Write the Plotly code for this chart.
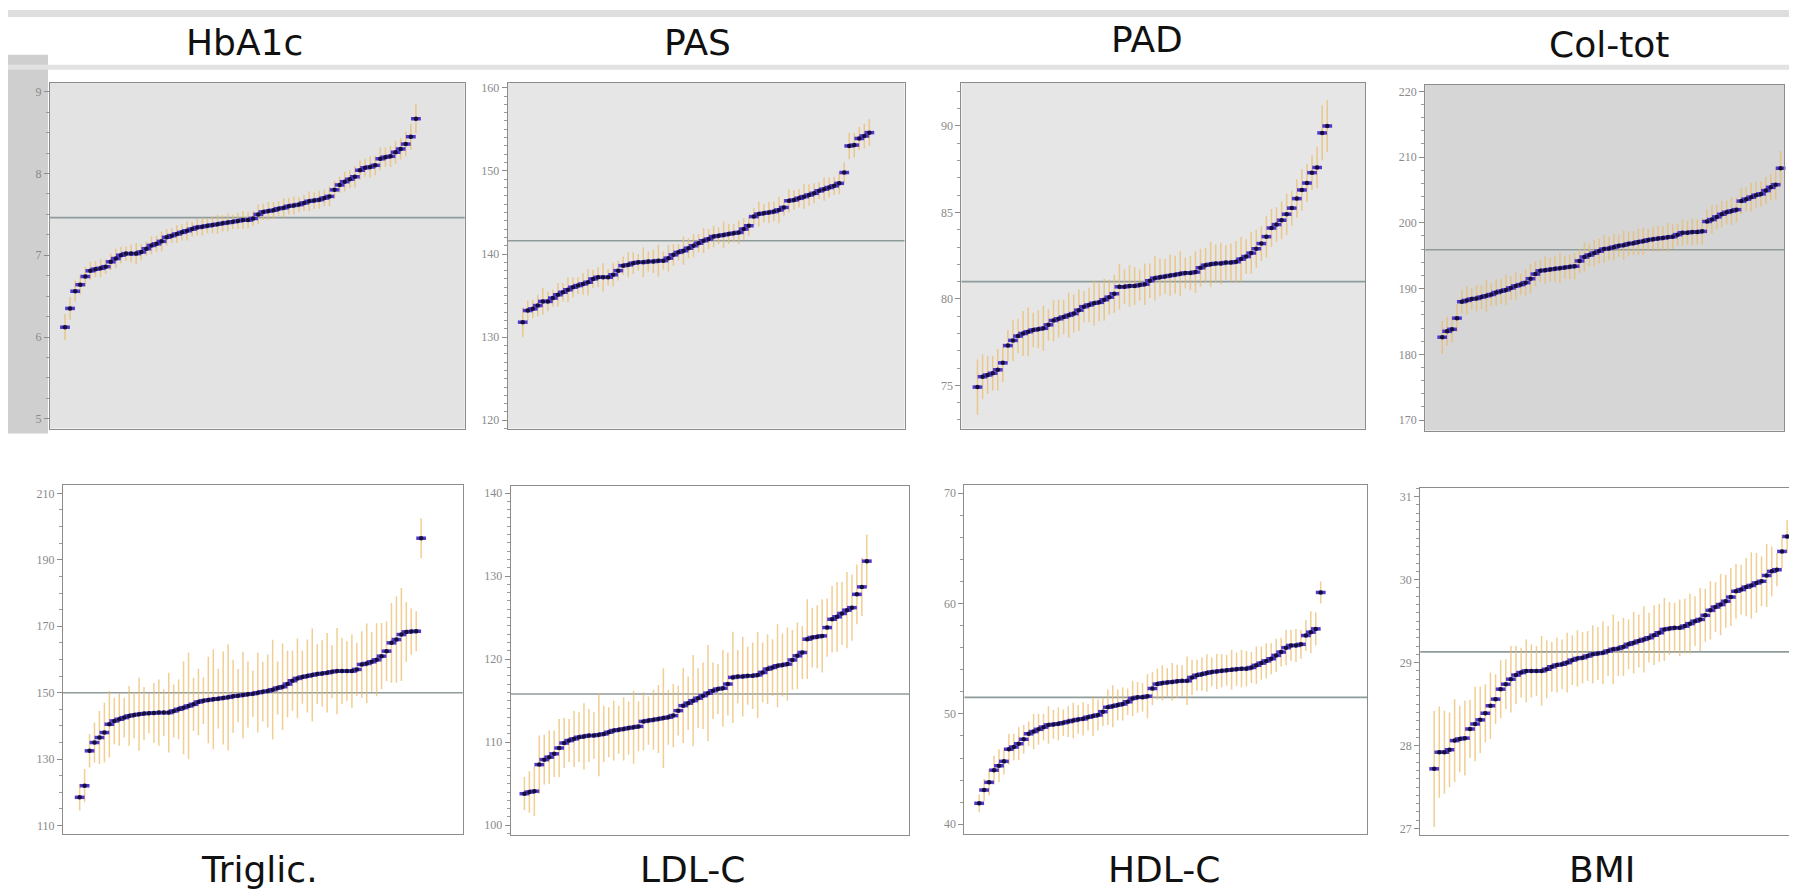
import plotly.graph_objects as go

# ---------------- data ----------------
unit_index = list(range(1, 71))

hba1c = [6.12,6.35,6.56,6.64,6.74,6.81,6.83,6.84,6.86,6.92,6.96,7.00,7.02,7.02,7.02,7.04,7.08,7.12,7.14,7.17,
         7.22,7.24,7.26,7.28,7.30,7.32,7.34,7.35,7.36,7.37,7.38,7.39,7.40,7.41,7.42,7.43,7.43,7.45,7.50,7.53,
         7.54,7.55,7.57,7.58,7.60,7.61,7.62,7.64,7.66,7.67,7.68,7.70,7.72,7.80,7.86,7.90,7.93,7.96,8.04,8.07,
         8.08,8.10,8.18,8.20,8.21,8.26,8.30,8.36,8.45,8.67]
hba1c_err = [0.16,0.14,0.13,0.12,0.12,0.11,0.10,0.11,0.09,0.10,0.12,0.10,0.09,0.11,0.13,0.10,0.09,0.11,0.10,0.12,
             0.10,0.09,0.11,0.10,0.12,0.09,0.10,0.11,0.09,0.10,0.12,0.10,0.11,0.09,0.10,0.11,0.10,0.09,0.12,0.10,
             0.11,0.10,0.09,0.12,0.10,0.11,0.09,0.10,0.12,0.10,0.11,0.10,0.12,0.11,0.10,0.12,0.11,0.13,0.12,0.11,
             0.13,0.12,0.14,0.12,0.13,0.14,0.13,0.15,0.16,0.18]

pas = [131.8,133.2,133.4,133.8,134.3,134.3,134.7,135.1,135.4,135.7,136.0,136.2,136.4,136.6,137.0,137.2,137.2,137.2,137.5,138.0,
       138.6,138.7,138.9,139.0,139.0,139.1,139.1,139.2,139.2,139.5,139.9,140.2,140.4,140.7,141.0,141.3,141.6,141.8,142.1,142.2,
       142.3,142.4,142.5,142.6,143.0,143.4,144.5,144.8,144.9,145.0,145.1,145.3,145.6,146.4,146.5,146.7,146.9,147.1,147.3,147.6,
       147.8,148.0,148.2,148.5,149.8,153.0,153.1,153.9,154.2,154.6]
pas_err = [1.8,1.2,1.1,1.3,1.6,1.2,1.0,1.4,1.1,1.5,1.2,1.0,1.3,1.6,1.1,1.2,1.7,1.0,1.4,1.2,
           1.1,1.5,1.3,1.0,1.8,1.2,1.4,1.9,1.1,1.6,1.3,1.0,1.7,1.2,1.4,1.1,1.5,1.2,1.3,1.0,
           1.6,1.2,1.1,1.4,1.3,1.2,1.0,1.5,1.1,1.3,1.2,1.6,1.0,1.4,1.2,1.1,1.5,1.3,1.2,1.0,
           1.4,1.2,1.1,1.3,1.2,1.6,1.5,1.4,1.5,1.6]

pad = [74.9,75.5,75.6,75.7,75.9,76.3,77.3,77.6,77.85,78.0,78.1,78.2,78.25,78.3,78.5,78.75,78.85,78.95,79.05,79.15,
       79.35,79.55,79.65,79.75,79.8,79.95,80.1,80.3,80.7,80.7,80.75,80.75,80.8,80.85,81.05,81.2,81.25,81.3,81.35,81.4,
       81.45,81.5,81.5,81.55,81.8,81.95,82.0,82.05,82.05,82.1,82.1,82.15,82.3,82.45,82.65,82.9,83.2,83.6,84.1,84.3,
       84.55,84.9,85.25,85.8,86.3,86.7,87.3,87.6,89.6,90.0]
pad_err = [1.6,1.3,1.1,1.0,1.2,1.1,0.9,1.2,1.0,1.3,1.4,1.0,1.1,1.3,0.9,1.2,1.1,1.0,1.3,1.1,
           1.2,0.9,1.0,1.3,1.1,1.2,1.0,1.1,1.3,1.0,1.2,1.1,0.9,1.2,1.0,1.3,1.1,1.0,1.2,1.1,
           1.3,0.9,1.0,1.2,1.1,1.0,1.3,1.1,1.2,1.0,1.1,1.2,1.3,1.0,1.2,1.1,1.0,1.2,1.1,1.0,
           1.1,1.2,1.0,1.1,1.2,1.1,1.0,1.2,1.6,1.5]

coltot = [182.6,183.5,183.8,185.5,188.0,188.2,188.4,188.5,188.7,188.9,189.1,189.4,189.6,189.8,190.1,190.4,190.6,190.9,191.5,192.2,
          192.7,192.8,192.9,193.0,193.1,193.2,193.3,193.4,194.2,194.8,195.1,195.4,195.7,196.0,196.1,196.3,196.5,196.6,196.8,196.9,
          197.1,197.2,197.4,197.5,197.6,197.7,197.8,197.9,198.2,198.5,198.5,198.6,198.6,198.7,200.2,200.5,200.9,201.3,201.6,201.8,
          202.0,203.3,203.6,203.9,204.2,204.4,204.9,205.4,205.8,208.3]
coltot_err = [2.5,2.2,2.0,2.1,1.8,2.2,1.6,2.0,1.8,2.4,1.7,2.0,1.9,2.3,1.8,2.1,1.6,2.0,2.2,1.9,
              1.7,2.1,1.8,2.0,2.3,1.7,1.9,2.0,1.8,2.2,1.7,2.0,1.9,2.1,1.8,2.0,1.7,2.2,1.9,1.8,
              2.0,2.1,1.7,1.9,2.0,1.8,2.2,1.9,1.7,2.0,1.8,2.1,1.9,2.0,1.8,2.2,1.9,2.0,1.8,2.1,
              1.9,2.0,1.8,2.2,2.0,1.9,2.1,2.0,2.2,2.6]

triglic = [118.5,122.0,132.5,135.0,136.5,138.0,140.5,141.5,142.0,142.5,143.0,143.3,143.5,143.7,143.8,143.9,144.0,144.0,144.0,144.5,
           145.0,145.5,146.0,146.5,147.2,147.6,147.8,148.0,148.2,148.4,148.6,148.9,149.1,149.3,149.5,149.7,150.0,150.3,150.5,150.9,
           151.4,151.8,152.6,153.6,154.3,154.7,155.0,155.3,155.6,155.8,156.0,156.3,156.5,156.5,156.5,156.5,157.0,158.5,158.8,159.3,
           159.9,161.0,162.5,165.0,166.0,167.5,168.3,168.4,168.5,196.5]
triglic_err = [4,5,5,6,8,9,10,7,8,6,9,7,11,8,6,9,10,7,12,8,
               9,14,16,8,10,7,13,15,9,14,16,11,8,13,10,7,12,9,11,15,
               8,13,10,9,12,8,11,14,9,10,12,8,13,10,9,11,8,10,12,9,
               11,10,9,12,13,14,9,7,6,6]

ldlc = [103.8,104.0,104.1,107.3,107.9,108.2,108.6,109.3,109.9,110.2,110.4,110.6,110.7,110.8,110.8,110.9,111.0,111.2,111.4,111.5,
        111.6,111.7,111.8,111.9,112.5,112.6,112.7,112.8,112.9,113.0,113.2,113.8,114.4,114.7,115.0,115.3,115.6,115.9,116.2,116.4,
        116.5,117.0,117.8,117.9,117.9,118.0,118.0,118.1,118.4,118.8,119.0,119.2,119.3,119.4,119.9,120.4,120.8,122.4,122.6,122.7,
        122.8,123.8,124.8,125.1,125.5,125.9,126.2,127.8,128.7,131.8]
ldlc_err = [2.0,2.5,3.0,3.5,3.0,3.2,2.8,3.5,3.0,2.6,3.4,3.0,4.0,3.2,2.8,5.0,3.4,3.0,3.6,2.9,
            3.8,3.2,4.4,3.0,3.5,2.9,3.6,4.1,6.0,3.3,3.8,3.0,4.5,3.2,5.5,3.6,4.0,5.8,3.4,3.0,
            4.6,3.8,5.5,3.2,4.8,3.5,4.0,5.2,3.6,4.2,3.4,5.0,3.8,4.4,3.6,4.0,3.2,4.8,3.6,3.8,
            4.4,3.5,4.0,4.2,3.8,4.6,4.0,3.6,3.5,3.2]

hdlc = [41.9,43.1,43.8,44.9,45.3,45.7,46.8,47.0,47.3,47.7,48.2,48.4,48.6,48.8,49.0,49.05,49.1,49.2,49.3,49.4,
        49.5,49.55,49.7,49.8,49.9,50.2,50.6,50.7,50.8,50.9,51.1,51.4,51.5,51.5,51.6,52.3,52.7,52.8,52.85,52.9,
        52.95,53.0,53.0,53.3,53.5,53.6,53.7,53.8,53.85,53.9,53.95,54.0,54.05,54.1,54.1,54.2,54.4,54.6,54.8,55.0,
        55.3,55.6,56.0,56.2,56.2,56.3,57.1,57.4,57.7,61.0]
hdlc_err = [0.8,1.0,1.2,1.3,1.5,1.2,1.4,1.2,1.5,1.3,1.1,1.6,1.4,1.2,1.7,1.3,1.5,1.2,1.4,1.6,
            1.3,1.5,1.2,1.8,1.4,1.3,1.6,1.9,1.4,1.5,1.2,1.6,1.4,1.3,2.0,1.5,1.4,1.6,1.3,1.7,
            1.5,1.4,2.2,1.6,1.4,1.5,1.7,1.3,1.6,1.5,1.4,1.8,1.5,1.7,1.6,1.4,1.7,1.5,1.6,1.4,
            1.5,1.3,1.6,1.4,1.5,1.3,1.4,1.9,1.5,1.0]

bmi = [27.72,27.92,27.92,27.95,28.06,28.08,28.09,28.20,28.26,28.31,28.39,28.48,28.56,28.68,28.74,28.80,28.85,28.88,28.90,28.90,
       28.90,28.90,28.92,28.95,28.97,28.98,29.00,29.03,29.05,29.06,29.08,29.10,29.11,29.12,29.14,29.16,29.17,29.19,29.22,29.24,
       29.26,29.28,29.30,29.33,29.36,29.40,29.41,29.42,29.42,29.44,29.47,29.50,29.52,29.57,29.63,29.67,29.70,29.74,29.79,29.86,
       29.88,29.91,29.93,29.96,29.98,30.05,30.10,30.12,30.34,30.52]
bmi_err = [0.7,0.55,0.5,0.45,0.5,0.4,0.45,0.35,0.45,0.4,0.35,0.4,0.3,0.35,0.3,0.4,0.35,0.3,0.38,0.32,
           0.3,0.42,0.35,0.3,0.33,0.3,0.36,0.3,0.34,0.31,0.3,0.35,0.32,0.38,0.3,0.42,0.33,0.35,0.3,0.37,
           0.32,0.4,0.3,0.36,0.35,0.38,0.32,0.3,0.34,0.33,0.36,0.3,0.38,0.32,0.35,0.3,0.37,0.32,0.35,0.33,
           0.3,0.35,0.4,0.36,0.3,0.38,0.3,0.2,0.2,0.2]

panel_titles = ["HbA1c", "PAS", "PAD", "Col-tot", "Triglic.", "LDL-C", "HDL-C", "BMI"]
series = [hba1c, pas, pad, coltot, triglic, ldlc, hdlc, bmi]
errors = [hba1c_err, pas_err, pad_err, coltot_err, triglic_err, ldlc_err, hdlc_err, bmi_err]
means = [7.46, 141.6, 81.0, 195.9, 150.0, 115.8, 51.5, 29.13]
tick_values = [[5, 6, 7, 8, 9], [120, 130, 140, 150, 160], [75, 80, 85, 90], [170, 180, 190, 200, 210, 220],
               [110, 130, 150, 170, 190, 210], [100, 110, 120, 130, 140], [40, 50, 60, 70], [27, 28, 29, 30, 31]]

# ---------------- layout config (pixels in the 1797x889 page) ----------------
W, H = 1797, 889
# (left, right, top, bottom) of each plotting area
boxes = [(42, 457, 73, 420), (500, 897, 73, 420), (954, 1358, 73, 420), (1418, 1777, 75, 422),
         (55, 455, 477, 827), (503, 902, 478, 828), (957, 1360, 477, 827), (1413, 1797, 480, 828)]
x_ranges = [(-1.95, 79.6), (-1.99, 77.0), (-2.16, 77.5), (-2.47, 70.7),
            (-2.37, 78.4), (-1.76, 78.6), (-1.97, 79.4), (-1.73, 73.3)]
y_ranges = [(4.88, 9.11), (119.0, 160.6), (72.5, 92.5), (168.4, 221.0),
            (107.4, 212.4), (98.8, 140.8), (39.1, 70.7), (26.92, 31.1)]
minor_dt = [0.25, 1, 1, 2, 5, 1, 2, 0.1]
bgs = ["#e3e3e3", "#e6e6e6", "#e6e6e6", "#d6d6d6", "white", "white", "white", "white"]
title_pos = [(237, 33), (690, 33), (1140, 30), (1602, 35), (252, 862), (685, 862), (1157, 862), (1595, 862)]

fig = go.Figure()
layout = dict(width=W, height=H, margin=dict(l=0, r=0, t=0, b=0),
              paper_bgcolor="white", plot_bgcolor="white", showlegend=False)

shapes = []
annotations = []

# photo-like grey bands behind the top row
shapes.append(dict(type="rect", xref="paper", yref="paper", x0=0, x1=1, y0=1 - 7 / H, y1=1,
                   fillcolor="#dedede", line_width=0, layer="below"))
shapes.append(dict(type="rect", xref="paper", yref="paper", x0=0, x1=40 / W, y0=1 - 425 / H, y1=1 - 45 / H,
                   fillcolor="#cfcfcf", line_width=0, layer="below"))
shapes.append(dict(type="rect", xref="paper", yref="paper", x0=0, x1=1, y0=1 - 60 / H, y1=1 - 55 / H,
                   fillcolor="#e2e2e2", line_width=0, layer="below"))

for k in range(8):
    ax = "" if k == 0 else str(k + 1)
    l, r, t, b = boxes[k]
    layout["xaxis" + ax] = dict(domain=[l / W, r / W], range=list(x_ranges[k]), anchor="y" + ax,
                                showticklabels=False, ticks="", showgrid=False, zeroline=False,
                                showline=True, linecolor="#8c8c8c", linewidth=1.2, mirror=True)
    layout["yaxis" + ax] = dict(domain=[1 - b / H, 1 - t / H], range=list(y_ranges[k]), anchor="x" + ax,
                                tickvals=tick_values[k], ticks="outside", ticklen=5, tickcolor="#8c8c8c",
                                tickfont=dict(family="Liberation Serif", size=12, color="#8a8a8a"),
                                showgrid=False, zeroline=False, showline=True, linecolor="#8c8c8c",
                                linewidth=1.2, mirror=True,
                                minor=dict(ticks="outside", ticklen=3, tickcolor="#9a9a9a", dtick=minor_dt[k],
                                           showgrid=False))
    # plotting-area background
    shapes.append(dict(type="rect", xref="x" + ax + " domain", yref="y" + ax + " domain",
                       x0=0, x1=1, y0=0, y1=1, fillcolor=bgs[k], line_width=0, layer="below"))
    # overall mean line
    shapes.append(dict(type="line", xref="x" + ax + " domain", yref="y" + ax, x0=0, x1=1,
                       y0=means[k], y1=means[k], line=dict(color="#8f9c9c", width=1.6), layer="below"))

    # error bars
    fig.add_trace(go.Scatter(x=unit_index, y=series[k], mode="markers",
                             marker=dict(size=1, color="rgba(0,0,0,0)"),
                             error_y=dict(type="data", array=errors[k], visible=True,
                                          color="rgba(235,185,100,0.7)", thickness=1.5, width=0),
                             xaxis="x" + ax, yaxis="y" + ax, hoverinfo="skip"))
    # purple dashes that merge neighbouring estimates into a band
    fig.add_trace(go.Scatter(x=unit_index, y=series[k], mode="markers",
                             marker=dict(size=7, symbol="line-ew", line=dict(color="#5236cc", width=3.5)),
                             xaxis="x" + ax, yaxis="y" + ax, hoverinfo="skip", cliponaxis=False))
    # point estimates
    fig.add_trace(go.Scatter(x=unit_index, y=series[k], mode="markers",
                             marker=dict(size=4.5, color="#14103c"),
                             xaxis="x" + ax, yaxis="y" + ax, cliponaxis=False))

    tx, ty = title_pos[k]
    annotations.append(dict(text=panel_titles[k], x=tx / W, y=1 - ty / H, xref="paper", yref="paper",
                            showarrow=False, xanchor="center", yanchor="middle",
                            font=dict(family="DejaVu Sans", size=36, color="#111111")))

layout["shapes"] = shapes
layout["annotations"] = annotations
fig.update_layout(**layout)
fig.write_html("out.html")
